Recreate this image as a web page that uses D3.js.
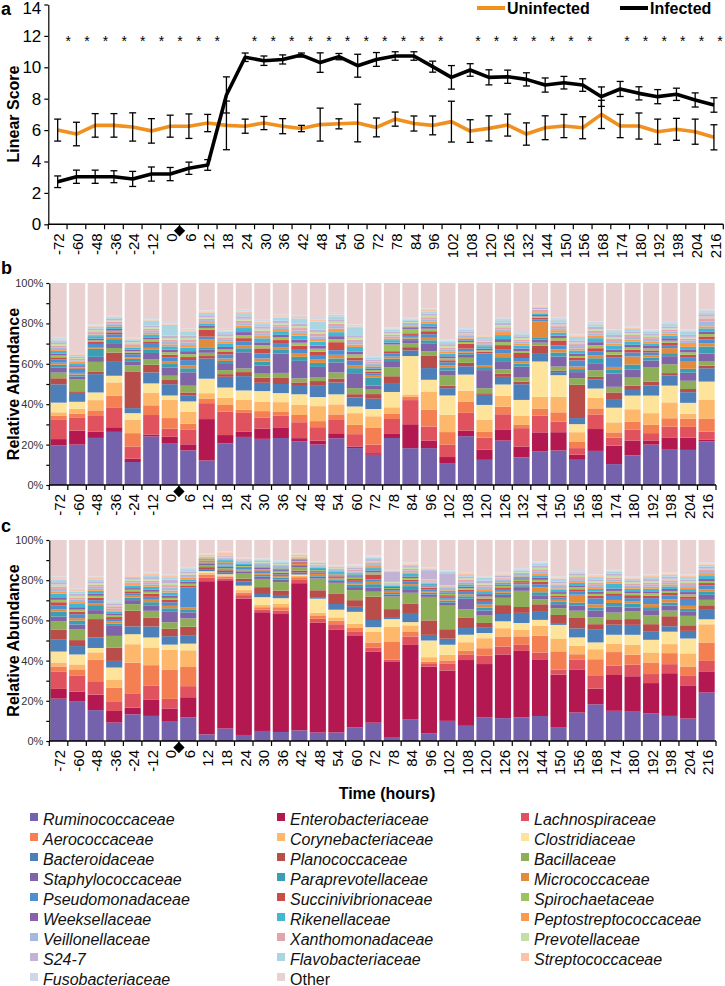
<!DOCTYPE html>
<html><head><meta charset="utf-8">
<script src="https://cdn.jsdelivr.net/npm/d3@7"></script>
<style>body{margin:0;background:#fff}svg{display:block}</style>
</head><body><svg id="chart" width="725" height="986"></svg>
<script>
// ---------------- DATA ----------------
const hours = ["-72","-60","-48","-36","-24","-12","0","6","12","18","24","30","36","42","48","54","60","72","78","84","96","102","108","120","126","132","144","150","156","168","174","180","192","198","204","216"];

const uninfected    = [6.0,5.75,6.3,6.3,6.2,5.95,6.25,6.25,6.45,6.3,6.25,6.45,6.25,6.1,6.35,6.4,6.45,6.17,6.7,6.42,6.3,6.54,5.94,6.11,6.32,5.75,6.15,6.26,6.15,7.0,6.26,6.26,5.9,6.05,5.9,5.54];
const uninfectedErr = [0.7,0.75,0.75,0.75,0.9,0.78,0.7,0.78,0.55,1.55,0.45,0.42,0.48,0.2,1.05,0.32,1.2,0.6,0.45,0.48,0.6,1.3,0.72,0.8,0.7,0.71,0.76,0.74,0.7,0.9,0.74,0.83,0.8,0.7,0.8,0.8];
const infected      = [2.71,3.03,3.03,3.03,2.89,3.2,3.2,3.57,3.78,8.24,10.64,10.42,10.5,10.78,10.3,10.68,10.1,10.5,10.72,10.72,10.04,9.36,9.83,9.36,9.4,9.23,8.87,9.02,8.87,8.13,8.62,8.34,8.13,8.28,7.92,7.6];
const infectedErr   = [0.37,0.42,0.42,0.38,0.48,0.45,0.42,0.39,0.34,1.15,0.27,0.3,0.29,0.13,0.62,0.2,0.73,0.44,0.27,0.27,0.35,0.75,0.4,0.48,0.42,0.42,0.45,0.4,0.4,0.62,0.48,0.42,0.45,0.39,0.45,0.46];
const significant   = [1,1,1,1,1,1,1,1,1,0,1,1,1,1,1,1,1,1,1,1,1,0,1,1,1,1,1,1,1,0,1,1,1,1,1,1];

const families = ["Ruminococcaceae","Enterobacteriaceae","Lachnospiraceae","Aerococcaceae","Corynebacteriaceae","Clostridiaceae","Bacteroidaceae","Planococcaceae","Bacillaceae","Staphylococcaceae","Paraprevotellaceae","Micrococcaceae","Pseudomonadaceae","Succinivibrionaceae","Spirochaetaceae","Weeksellaceae","Rikenellaceae","Peptostreptococcaceae","Veillonellaceae","Xanthomonadaceae","Prevotellaceae","S24-7","Flavobacteriaceae","Streptococcaceae","Fusobacteriaceae","Other"];
const familyColors = ["#7462ad","#b41850","#e0525e","#f47f52","#fdb86c","#fde49a","#4d7fb8","#b94d4a","#8fae59","#8064a8","#3b9eb2","#e38b3d","#4f8fd0","#cc4d47","#9cc35d","#8a60ac","#43b6d3","#fa9a4a","#a4b9de","#e3a5ab","#c7dda6","#c2b2d6","#a9d6e2","#fcc4a4","#cdd9e9","#e9d1d1"];

// Panel b (uninfected) relative abundance, %
const bRum  = [19.6,20.0,23.4,26.4,11.4,23.9,20.8,17.0,12.0,20.5,23.8,22.8,23.3,21.6,20.0,23.3,18.3,15.0,23.3,18.3,18.3,10.9,24.1,12.5,22.1,13.7,16.7,17.2,12.5,17.0,10.4,14.7,20.0,17.5,17.5,21.6];
const bEnt  = [3.2,6.9,3.2,2.3,1.6,1.0,3.1,3.0,20.3,4.1,2.5,5.1,5.3,1.7,2.0,2.5,0.8,0.8,2.0,11.9,3.8,3.0,2.8,5.0,5.3,5.4,9.6,9.1,2.5,10.9,9.2,7.4,2.1,6.1,6.1,0.8];
const bLach = [9.5,6.3,7.7,9.9,6.1,9.6,4.0,7.1,7.8,11.5,9.4,5.3,5.9,7.9,6.6,6.6,6.1,4.2,7.4,12.0,6.9,6.1,8.7,6.1,7.8,9.1,8.3,5.3,3.3,7.3,4.0,5.3,3.6,5.4,5.4,4.1];
const bAero = [2.0,2.0,2.8,5.8,6.6,4.8,5.3,3.1,2.1,3.3,1.6,3.3,2.0,3.6,3.0,2.8,4.6,8.3,2.5,1.6,8.3,6.3,5.4,3.0,3.8,1.6,3.6,4.6,3.3,3.0,2.6,4.1,4.1,4.1,4.1,6.3];
const bCory = [1.8,2.5,5.1,6.6,6.6,6.3,9.1,5.9,2.8,3.6,5.0,4.6,4.6,5.0,7.4,5.0,5.8,5.8,3.3,1.2,9.1,8.6,5.6,5.8,5.4,4.6,5.8,7.8,4.6,5.3,5.0,6.1,5.8,7.9,2.5,9.4];
const bClos = [4.8,3.5,3.8,3.3,3.3,4.5,2.1,5.0,7.1,5.0,4.5,5.3,4.5,5.3,4.5,5.0,3.3,3.6,7.6,19.1,5.8,9.6,7.9,7.4,5.6,7.8,17.7,10.7,4.0,4.6,7.3,6.8,8.7,8.3,5.4,9.1];
const bBact = [9.1,4.4,9.1,6.9,2.5,5.4,5.6,2.8,9.9,5.3,7.1,4.1,4.5,4.6,5.9,5.9,4.5,5.1,4.0,2.8,5.8,3.6,4.1,5.0,3.8,7.8,3.8,1.5,3.0,4.6,4.3,2.8,5.0,5.0,5.3,6.6];
const bPlan = [3.0,0.8,1.1,4.6,18.2,3.8,2.1,1.6,1.2,1.3,2.0,2.5,3.0,1.3,2.0,2.0,1.6,2.3,3.8,1.6,6.3,1.3,1.7,0.8,1.6,1.3,4.1,0.8,16.5,1.2,3.3,2.1,2.0,1.2,1.6,1.3];
const bBac  = [2.8,5.8,5.0,2.3,3.0,2.8,2.1,3.3,1.6,2.0,1.8,2.0,2.5,2.0,2.0,3.0,3.0,2.2,4.5,2.0,2.0,5.0,2.5,2.5,2.2,2.0,1.5,2.0,3.3,3.3,2.8,4.0,6.9,4.4,4.1,2.0];
const bStaph= [2.6,1.5,2.5,2.4,2.0,3.0,4.0,6.6,1.5,3.0,8.0,4.0,9.6,8.7,5.0,5.0,7.4,2.0,3.0,1.5,4.0,2.5,1.5,9.0,4.0,5.4,1.5,5.0,3.0,3.5,6.6,4.0,3.5,4.0,4.0,4.0];
const bPara = [1.3,1.0,4.0,2.0,1.2,1.5,1.8,2.0,1.2,1.5,2.0,2.0,1.8,2.0,2.0,2.0,2.5,4.1,1.2,0.8,1.5,1.3,1.0,1.5,2.0,1.5,1.2,2.0,1.5,2.5,1.8,2.5,1.5,1.5,2.0,3.5];
const bMicro= [1.0,0.8,0.9,0.9,0.8,1.0,1.2,1.5,4.0,1.2,1.5,1.5,1.4,1.6,1.6,1.8,1.5,0.8,1.0,0.8,1.2,1.3,0.8,1.0,2.0,1.2,8.0,1.5,1.3,1.5,1.5,4.0,1.0,2.5,3.5,1.5];
const bPseu = [1.7,1.5,1.5,1.5,1.5,2.0,2.2,2.5,1.2,2.0,2.0,2.5,2.0,2.3,2.3,2.3,2.3,1.2,1.5,1.0,1.8,1.5,1.2,5.8,2.0,1.6,1.0,2.0,3.0,2.0,4.6,2.0,1.5,1.5,2.0,2.0];
const bSucc = [1.0,0.8,1.0,1.0,0.8,1.2,1.3,1.5,3.5,1.5,1.5,2.5,1.5,1.6,1.6,4.0,1.5,0.8,1.2,0.8,1.5,1.0,2.5,0.8,2.0,2.5,0.8,2.5,1.2,1.5,1.5,1.3,1.0,1.2,1.5,1.5];
const bSpir = [0.9,0.7,0.8,0.8,0.7,1.0,1.2,1.4,0.8,1.0,1.5,1.5,1.3,1.5,1.5,1.5,1.5,0.8,3.3,2.0,1.2,1.0,0.8,0.8,1.5,1.0,0.6,1.2,1.0,1.5,1.3,1.2,1.0,1.0,1.2,1.2];
const bWeek = [1.0,0.8,0.9,0.9,0.8,1.0,1.3,1.5,1.0,1.2,1.5,1.5,1.3,1.5,1.5,1.5,1.5,0.8,1.0,0.6,1.2,1.0,0.8,0.8,1.5,1.2,0.7,1.2,1.2,1.5,1.3,1.3,1.2,1.2,1.2,1.3];
const bRike = [1.3,1.0,1.2,1.2,1.0,1.4,1.6,1.8,1.0,1.5,2.0,2.0,1.8,2.0,2.0,2.0,2.2,1.0,1.2,0.8,1.5,1.3,0.8,1.2,2.0,1.5,0.8,1.5,1.5,2.0,1.8,1.5,1.3,1.3,1.5,1.5];
const bPept = [0.9,0.7,0.8,0.8,0.7,0.9,1.0,1.2,0.8,1.0,1.2,1.2,1.1,1.3,1.3,1.8,1.2,0.7,0.9,0.6,1.0,0.9,0.7,0.7,1.5,1.0,0.6,1.2,1.0,1.2,1.2,1.2,1.0,1.0,2.0,1.0];
const bVeil = [0.9,0.7,0.8,0.8,0.7,1.0,1.2,1.3,1.0,1.0,1.2,1.3,1.1,1.3,1.3,1.2,1.2,0.8,0.9,0.6,1.0,1.2,0.8,0.8,1.2,1.0,0.6,1.0,1.2,1.2,1.2,1.2,1.2,1.0,1.2,2.5];
const bXant = [0.9,0.7,0.8,0.8,0.7,0.9,1.0,1.2,0.8,1.0,1.2,1.2,1.0,1.2,1.2,1.2,1.2,0.7,0.8,0.6,1.0,0.9,0.7,0.7,1.2,0.9,0.6,1.0,1.0,1.2,1.1,1.0,0.9,0.9,1.0,1.5];
const bPrev = [0.7,0.5,0.6,0.6,0.5,0.7,0.9,1.0,0.6,0.8,1.0,1.0,0.9,1.0,1.0,1.0,1.0,0.5,0.7,0.4,0.8,0.8,0.5,0.5,1.0,0.8,0.4,0.8,0.8,0.9,0.9,0.8,0.7,0.7,0.8,0.8];
const bS247 = [0.9,0.7,0.8,0.8,0.7,0.9,1.2,1.2,1.0,1.0,1.2,1.2,1.1,1.2,1.2,1.2,1.2,0.7,0.9,0.6,1.0,0.9,0.8,0.7,1.2,0.9,0.6,1.0,1.0,1.2,1.1,1.0,0.9,0.9,1.0,1.2];
const bFlav = [1.0,0.8,1.0,0.8,0.8,2.5,5.4,1.8,1.2,1.2,1.6,1.5,1.5,2.5,4.0,1.5,3.6,0.8,1.0,0.7,1.2,1.2,0.8,1.2,1.3,1.0,0.6,1.2,1.8,1.2,1.3,1.2,1.0,1.2,1.5,1.0];
const bStre = [0.5,0.4,0.4,0.4,0.5,0.5,0.6,0.8,0.5,0.6,0.8,0.8,0.7,0.8,0.8,0.8,0.8,0.4,0.5,0.4,0.6,0.5,0.4,0.4,0.7,0.5,0.3,0.5,0.5,0.6,0.6,0.6,0.5,0.5,0.6,0.6];
const bFuso = [0.7,0.5,0.6,0.6,0.5,0.7,0.8,0.9,0.6,0.8,0.9,0.9,0.8,0.9,0.9,0.9,0.9,0.5,0.6,0.4,0.7,0.6,0.5,0.5,0.8,0.6,0.4,0.7,0.6,0.7,0.8,0.7,0.6,0.6,0.7,0.7];
const bOther= [27.2,34.7,20.6,16.0,26.9,17.3,19.3,22.3,13.5,22.6,13.2,18.2,15.7,16.0,17.3,14.9,20.6,36.3,22.0,17.3,12.7,28.1,22.3,25.9,17.0,24.3,11.1,17.3,25.6,19.3,23.1,21.5,23.1,19.3,23.1,13.2];

// Panel c (infected) relative abundance, %
const cRum  = [21.3,20.0,15.5,9.2,13.3,12.5,10.0,11.7,3.3,6.2,3.0,5.0,4.5,5.3,4.2,4.2,6.7,9.2,2.0,10.8,3.7,10.0,7.5,11.7,11.3,11.7,12.5,6.7,14.2,18.3,15.0,14.7,13.7,12.5,11.2,24.2];
const cEnt  = [4.9,4.7,7.8,5.8,3.3,8.0,6.3,10.0,76.2,74.1,67.8,59.2,58.8,73.3,54.6,50.8,45.5,35.8,38.0,36.7,33.3,25.0,32.5,26.7,31.5,32.8,28.3,26.7,21.3,7.8,17.8,17.8,15.2,21.3,16.3,10.3];
const cLach = [8.8,8.2,6.7,4.5,7.2,7.0,4.8,5.5,1.7,0.9,1.7,1.3,1.7,1.6,2.0,2.8,2.0,2.0,0.8,4.2,1.3,3.3,2.8,4.2,3.9,3.0,3.4,2.5,5.0,6.7,4.7,5.8,4.5,4.5,5.0,5.5];
const cAero = [2.5,3.0,10.8,7.2,15.3,10.3,14.7,9.5,1.6,1.0,1.3,1.2,1.7,1.4,1.7,1.7,2.0,2.5,9.2,2.5,1.2,1.7,1.7,3.7,5.0,4.2,8.3,9.2,2.8,8.0,6.7,5.0,5.8,5.5,4.7,9.2];
const cCory = [2.0,2.5,3.7,3.8,9.2,8.8,10.0,8.3,1.0,0.6,1.2,1.1,1.6,0.8,1.3,1.7,2.1,5.5,7.2,3.0,2.2,2.8,4.3,5.0,4.1,3.3,5.0,6.2,4.2,5.0,4.1,5.0,5.0,4.5,6.6,9.1];
const cClos = [5.5,5.0,2.2,6.2,5.0,5.0,2.5,3.3,0.7,0.5,2.2,3.9,2.9,0.5,7.0,3.8,5.9,2.2,4.0,1.6,8.3,5.0,3.7,2.6,3.4,3.3,3.0,7.1,4.2,3.4,4.5,5.0,6.3,6.2,7.4,2.5];
const cBact = [6.2,4.2,5.3,3.3,3.9,5.5,4.2,4.2,1.0,1.0,2.0,1.6,1.6,1.0,0.8,2.8,2.5,3.6,0.6,4.5,2.8,3.0,3.3,2.9,3.6,5.0,4.0,0.5,4.5,6.3,5.0,5.0,4.0,2.7,3.8,4.7];
const cPlan = [4.7,3.0,9.2,6.7,7.8,4.5,3.7,4.2,1.0,1.0,1.5,3.4,2.2,1.0,3.4,5.0,3.3,11.7,4.4,4.5,7.2,4.7,5.0,2.1,4.4,2.9,3.8,4.5,5.5,2.8,2.7,2.9,3.8,5.0,2.8,2.3];
const cBac  = [4.2,5.3,2.5,5.8,3.3,3.3,3.3,4.1,1.0,1.0,2.5,4.1,4.2,1.5,5.8,5.5,5.0,2.5,6.3,5.5,11.7,11.7,4.2,3.7,3.6,8.0,2.5,3.4,3.3,3.4,3.3,3.8,4.5,2.8,4.7,2.7];
const cStaph= [2.5,2.5,2.0,5.0,2.0,2.5,5.5,3.0,0.6,0.8,1.0,1.2,1.3,0.8,1.0,1.0,1.5,2.0,1.0,1.8,1.2,1.5,5.3,2.5,1.5,1.4,2.0,2.0,2.5,3.5,3.0,2.0,2.5,2.5,2.0,2.5];
const cPara = [2.5,2.0,2.5,1.2,1.2,1.8,1.5,1.2,0.4,0.5,0.6,0.8,0.9,0.5,0.7,0.7,1.2,1.8,0.8,1.5,0.9,1.0,1.2,1.5,1.0,0.9,1.5,1.2,1.5,1.5,1.8,2.0,1.5,1.5,1.5,1.5];
const cMicro= [1.2,1.2,1.0,1.0,1.0,1.2,1.2,1.2,0.4,0.5,0.6,0.8,0.8,0.5,0.6,0.6,0.9,1.2,0.6,1.0,0.8,0.9,1.0,1.5,0.9,0.8,2.5,1.0,4.0,1.5,1.5,1.2,1.5,1.5,1.5,1.2];
const cPseu = [2.0,2.0,1.5,1.2,1.2,1.5,1.8,10.0,0.5,0.6,0.7,0.8,0.9,0.6,0.8,0.8,1.0,1.2,0.8,1.2,0.9,1.0,1.2,1.8,1.0,0.9,1.5,1.2,1.5,3.0,2.0,1.5,3.0,2.0,3.5,2.0];
const cSucc = [1.5,1.3,1.2,1.0,1.0,1.5,1.2,1.0,0.4,0.5,0.5,0.7,0.8,0.5,0.6,0.6,0.9,2.5,0.6,1.0,0.7,0.8,1.0,1.2,0.8,0.8,1.2,1.0,1.2,1.2,1.3,1.5,1.2,1.3,1.2,1.2];
const cSpir = [1.2,1.0,1.0,0.8,0.8,1.0,1.0,0.8,0.3,0.4,0.4,0.6,0.6,0.4,0.5,0.5,0.7,1.0,0.5,0.8,0.6,0.7,0.8,1.0,0.7,0.7,1.0,0.8,1.0,1.0,1.2,1.0,1.2,1.0,1.0,1.0];
const cWeek = [1.3,1.2,1.0,0.8,0.8,1.0,1.2,1.0,0.3,0.4,0.5,0.6,0.7,0.4,0.5,0.5,0.7,1.0,0.5,0.8,0.6,0.7,0.8,1.2,0.7,0.7,1.0,0.9,1.0,1.2,1.2,1.0,1.0,1.0,1.2,1.0];
const cRike = [1.8,1.6,1.5,1.0,1.2,1.5,1.5,1.2,0.4,0.5,0.6,0.8,0.9,0.5,0.7,0.7,1.0,1.2,0.7,1.2,0.8,0.9,1.1,1.5,1.0,0.9,1.3,1.1,1.2,1.3,2.5,1.2,1.3,1.3,1.5,1.5];
const cPept = [1.2,1.0,1.0,0.8,0.8,1.0,1.0,0.8,0.3,0.4,0.4,0.6,0.6,0.4,0.5,0.5,0.7,1.0,0.5,0.8,0.6,0.7,0.8,1.0,0.7,0.6,1.0,0.8,1.0,1.0,1.0,0.9,1.0,1.0,1.0,1.0];
const cVeil = [1.2,1.2,1.0,0.8,0.8,1.0,1.5,0.8,0.4,0.4,0.5,0.6,0.6,0.4,0.5,0.5,0.7,1.0,0.5,0.9,0.6,0.7,0.8,1.2,0.7,0.6,1.0,1.2,1.0,1.0,1.0,0.9,1.0,1.0,1.0,1.0];
const cXant = [1.2,1.0,1.0,1.2,0.8,1.0,1.2,0.8,0.3,0.4,0.4,0.5,0.6,0.4,0.5,0.5,0.7,0.9,0.5,0.8,0.6,0.7,0.8,1.0,0.7,0.6,1.0,0.8,0.9,1.0,1.0,0.9,1.0,1.0,1.0,1.0];
const cPrev = [1.0,0.9,0.8,0.6,0.6,0.8,0.8,0.6,0.3,0.3,0.3,0.4,0.4,0.3,0.3,0.3,0.5,0.7,0.4,0.6,0.5,0.5,0.6,0.8,0.5,0.5,0.7,0.6,0.7,0.8,0.8,0.7,0.8,0.8,0.8,0.7];
const cS247 = [1.2,1.2,1.0,0.8,0.8,1.0,2.0,0.8,0.3,0.4,0.4,0.5,0.6,0.4,0.5,0.5,0.7,0.9,5.0,0.8,4.5,6.0,0.9,1.2,0.7,0.6,1.0,0.8,0.9,1.0,1.0,0.9,1.0,1.0,1.0,1.0];
const cFlav = [1.2,1.0,1.0,0.6,0.6,1.0,1.2,0.8,0.3,0.4,0.4,0.5,0.5,0.3,0.4,0.4,0.6,0.7,0.4,0.7,0.5,0.6,0.7,1.5,0.6,0.5,1.0,1.5,0.8,1.2,1.0,0.8,1.0,1.0,1.2,1.0];
const cStre = [0.8,0.7,0.6,0.5,0.4,0.6,0.6,0.5,0.3,1.5,0.3,0.4,0.4,0.3,0.3,0.3,0.4,0.6,0.3,0.5,0.4,0.4,0.5,0.6,0.4,0.4,0.5,0.5,0.5,0.5,0.6,0.5,0.6,0.5,0.6,0.5];
const cFuso = [0.9,0.9,0.8,0.6,0.5,0.7,0.8,0.6,0.3,0.3,0.3,0.4,0.4,0.3,0.3,0.3,0.5,0.5,0.3,0.5,0.4,0.5,0.6,0.7,0.5,0.4,0.6,0.6,0.6,0.7,0.7,0.6,0.7,0.6,0.7,0.6];
const cOther= [18.3,24.2,18.3,30.0,17.5,16.2,17.2,13.8,6.7,5.8,8.8,9.2,10.0,6.7,10.5,12.5,12.2,7.8,15.0,11.2,13.7,15.0,16.2,17.5,16.2,13.8,10.8,18.3,15.0,17.2,14.5,18.3,17.2,16.2,17.2,11.2];

const bSeries = [bRum,bEnt,bLach,bAero,bCory,bClos,bBact,bPlan,bBac,bStaph,bPara,bMicro,bPseu,bSucc,bSpir,bWeek,bRike,bPept,bVeil,bXant,bPrev,bS247,bFlav,bStre,bFuso,bOther];
const cSeries = [cRum,cEnt,cLach,cAero,cCory,cClos,cBact,cPlan,cBac,cStaph,cPara,cMicro,cPseu,cSucc,cSpir,cWeek,cRike,cPept,cVeil,cXant,cPrev,cS247,cFlav,cStre,cFuso,cOther];

// ---------------- DRAW ----------------
const FONT = '"Liberation Sans", Arial, Helvetica, sans-serif';
const svg = d3.select("#chart").style("font-family", FONT);
const color = d3.scaleOrdinal().domain(families).range(familyColors);

function styleAxis(g, size) {
  g.selectAll("path,line").attr("stroke", "#000").attr("stroke-width", 1.2);
  g.selectAll("text").attr("fill", "#000").style("font-size", size + "px").style("font-family", FONT);
}

function categoryAxis(x, y0, labelSize) {
  const g = svg.append("g");
  const [r0, r1] = x.range();
  g.append("line").attr("x1", r0).attr("x2", r1).attr("y1", y0).attr("y2", y0).attr("stroke", "#000").attr("stroke-width", 1.4);
  const bounds = hours.map(h => x(h) - x.step() * x.paddingInner() / 2).concat([r1]);
  bounds[0] = r0;
  g.selectAll("line.tk").data(bounds).join("line").attr("class", "tk")
    .attr("x1", d => d).attr("x2", d => d).attr("y1", y0).attr("y2", y0 + 5)
    .attr("stroke", "#000").attr("stroke-width", 1.2);
  g.selectAll("text").data(hours).join("text")
    .attr("transform", h => `translate(${x(h) + x.bandwidth() / 2 + 1.5},${y0 + 9}) rotate(-90)`)
    .attr("text-anchor", "end").attr("dy", "0.35em")
    .style("font-size", labelSize + "px").attr("fill", "#000").text(h => h);
  // diamond marker between 0 and 6 h
  const xd = x("6") - x.step() * x.paddingInner() / 2;
  g.append("path").attr("d", d3.symbol(d3.symbolSquare, 64)())
    .attr("transform", `translate(${xd},${y0 + 6.5}) rotate(45)`).attr("fill", "#000");
}

// ----- Panel a -----
const xA = d3.scaleBand().domain(hours).range([48.3, 723.3]).paddingInner(0);
const yA = d3.scaleLinear().domain([0, 14]).range([224.3, 4.5]);
const ax = svg.append("g").attr("transform", "translate(48.3,0)")
  .call(d3.axisLeft(yA).tickValues(d3.range(0, 15, 2)).tickSize(4).tickSizeOuter(0).tickPadding(3));
styleAxis(ax, 17);
ax.selectAll(".tick text").filter(d => d === 14).attr("dy", "0.55em");
categoryAxis(xA, 224.3, 15);

const cx = h => xA(h) + xA.bandwidth() / 2;
const line = d3.line().x((d, i) => cx(hours[i])).y(d => yA(d));
svg.append("path").datum(uninfected).attr("d", line).attr("fill", "none")
  .attr("stroke", "#f0901e").attr("stroke-width", 3.6).attr("stroke-linejoin", "round");
svg.append("path").datum(infected).attr("d", line).attr("fill", "none")
  .attr("stroke", "#000").attr("stroke-width", 3.6).attr("stroke-linejoin", "round");

function errorBars(vals, errs) {
  const g = svg.append("g").attr("stroke", "#000").attr("stroke-width", 1.3);
  hours.forEach((h, i) => {
    const x0 = cx(h), lo = yA(vals[i] - errs[i]), hi = yA(vals[i] + errs[i]);
    g.append("line").attr("x1", x0).attr("x2", x0).attr("y1", lo).attr("y2", hi);
    g.append("line").attr("x1", x0 - 3.5).attr("x2", x0 + 3.5).attr("y1", lo).attr("y2", lo);
    g.append("line").attr("x1", x0 - 3.5).attr("x2", x0 + 3.5).attr("y1", hi).attr("y2", hi);
  });
}
errorBars(uninfected, uninfectedErr);
errorBars(infected, infectedErr);

const xStar = d3.scalePoint().domain(hours).range([68.3, 720]);
svg.append("g").selectAll("text").data(hours.filter((h, i) => significant[i])).join("text")
  .attr("x", h => xStar(h)).attr("y", 46).attr("text-anchor", "middle")
  .style("font-size", "14px").text("*");

// legend a
const legA = [{t: "Uninfected", c: "#f0901e", x: 477}, {t: "Infected", c: "#000", x: 620}];
legA.forEach(d => {
  svg.append("line").attr("x1", d.x).attr("x2", d.x + 28).attr("y1", 8).attr("y2", 8)
    .attr("stroke", d.c).attr("stroke-width", 4);
  svg.append("text").attr("x", d.x + 30).attr("y", 14).style("font-size", "16px")
    .style("font-weight", "bold").text(d.t);
});
svg.append("text").attr("transform", "translate(19,114) rotate(-90)").attr("text-anchor", "middle")
  .style("font-size", "16px").style("font-weight", "bold").text("Linear Score");
svg.append("text").attr("x", 1).attr("y", 15).style("font-size", "18px").style("font-weight", "bold").text("a");

// ----- Panels b, c -----
function stackPanel(series, top, bottom, letter, letterY) {
  const rows = hours.map((h, i) => {
    const r = {hour: h};
    families.forEach((f, k) => r[f] = series[k][i]);
    return r;
  });
  const stacked = d3.stack().keys(families).offset(d3.stackOffsetExpand)(rows);
  const x = d3.scaleBand().domain(hours).range([49.3, 716]).paddingInner(0.13).paddingOuter(0.07);
  const y = d3.scaleLinear().domain([0, 1]).range([bottom, top]);
  const g = svg.append("g");
  g.selectAll("g").data(stacked).join("g").attr("fill", d => color(d.key))
    .selectAll("rect").data(d => d).join("rect")
    .attr("x", d => x(d.data.hour)).attr("width", x.bandwidth())
    .attr("y", d => y(d[1])).attr("height", d => Math.max(0, y(d[0]) - y(d[1])));
  const axisG = svg.append("g").attr("transform", "translate(49.3,0)")
    .call(d3.axisLeft(y).tickValues(d3.range(0, 1.01, 0.1)).tickSize(3).tickSizeOuter(0).tickPadding(3)
      .tickFormat(d => (Math.round(d * 100) % 20 === 0 ? d3.format(".0%")(d) : "")));
  styleAxis(axisG, 11);
  axisG.selectAll("text").attr("fill", "#333");
  const xAxisScale = d3.scaleBand().domain(hours).range([49.3, 716]);
  categoryAxis(xAxisScale, bottom, 15);
  svg.append("text").attr("transform", `translate(19,${(top + bottom) / 2}) rotate(-90)`)
    .attr("text-anchor", "middle").style("font-size", "16px").style("font-weight", "bold")
    .text("Relative Abundance");
  svg.append("text").attr("x", 1).attr("y", letterY).style("font-size", "18px")
    .style("font-weight", "bold").text(letter);
}
stackPanel(bSeries, 283, 485, "b", 274);
stackPanel(cSeries, 540, 741, "c", 532);

svg.append("text").attr("x", 387).attr("y", 799).attr("text-anchor", "middle")
  .style("font-size", "16px").style("font-weight", "bold").text("Time (hours)");

// legend
const colX = [30, 277, 521];
const leg = svg.append("g");
families.forEach((f, k) => {
  const col = k % 3, row = Math.floor(k / 3);
  const yc = 819 + row * 20;
  leg.append("rect").attr("x", colX[col]).attr("y", yc - 6).attr("width", 8).attr("height", 8).attr("fill", color(f));
  leg.append("text").attr("x", colX[col] + 13).attr("y", yc + 5.5).style("font-size", "16px")
    .style("font-style", f === "Other" ? "normal" : "italic").attr("fill", "#111").text(f);
});
</script>
</body></html>
